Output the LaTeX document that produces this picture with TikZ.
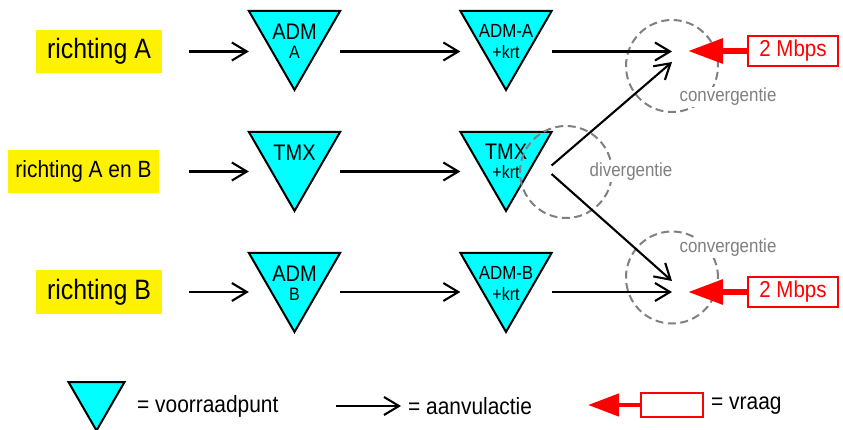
\documentclass[tikz,border=0pt]{standalone}
\usepackage{fontspec}
\setmainfont[FakeStretch=0.89]{Liberation Sans}
\usetikzlibrary{arrows.meta,shapes.geometric}
\definecolor{stockcyan}{RGB}{0,255,255}
\definecolor{zonegray}{RGB}{128,128,128}
\begin{document}
\begin{tikzpicture}[x=1pt,y=-1pt,
  fs/.style={font=\fontsize{#1}{#1}\selectfont},
  dirlabel/.style={fill=yellow, inner sep=0pt, minimum height=43pt},
  stockpt/.style={regular polygon, regular polygon sides=3, shape border rotate=180,
    draw=black, line width=2pt, fill=stockcyan, minimum size=105.3pt,
    inner sep=0pt, outer sep=0pt},
  flow/.style={line width=2.1pt, -{Straight Barb[length=15pt,width=18pt]}},
  zone/.style={circle, draw=zonegray, line width=2pt, dash pattern=on 8pt off 4.5pt,
    minimum size=92pt, inner sep=0pt},
  zonetext/.style={text=zonegray, fs=19, fill=white, inner sep=1pt},
  demand/.style={draw=red, line width=1.5pt, fill=white, text=red, inner sep=0pt},
  pull/.style={red, line width=6pt, -{Triangle[length=35pt,width=24pt]}},
]
\useasboundingbox (0,0) rectangle (843,430);

% direction labels
\node[dirlabel, minimum width=126pt, fs=28] (la)  at (99,51.5)   {richting A};
\node[dirlabel, minimum width=151pt, fs=23.5] (lab) at (83.5,171.5) {richting A en B};
\node[dirlabel, minimum width=126pt, fs=28] (lb)  at (99,292)    {richting B};

% stock points
\node[stockpt] (ta)  at (294.5,37.3)  {};
\node[stockpt] (tak) at (506,37.3)    {};
\node[stockpt] (tt)  at (294.5,158.3) {};
\node[stockpt] (ttk) at (506,158.3)   {};
\node[stockpt] (tb)  at (294.5,279.3) {};
\node[stockpt] (tbk) at (506,279.3)   {};

\node[fs=22.5] (ta-name)  at ([yshift=6pt]ta.center)   {ADM};
\node[fs=18]   (ta-sub)   at ([yshift=-15pt]ta.center) {A};
\node[fs=19]   (tak-name) at ([yshift=6pt]tak.center)  {ADM-A};
\node[fs=18]   (tak-sub)  at ([yshift=-15pt]tak.center){+krt};
\node[fs=22.5] (tt-name)  at ([yshift=6pt]tt.center)   {TMX};
\node[fs=22.5] (ttk-name) at ([yshift=7pt]ttk.center)  {TMX};
\node[fs=18]   (ttk-sub)  at ([yshift=-14pt]ttk.center){+krt};
\node[fs=22.5] (tb-name)  at ([yshift=6pt]tb.center)   {ADM};
\node[fs=18]   (tb-sub)   at ([yshift=-15pt]tb.center) {B};
\node[fs=19]   (tbk-name) at ([yshift=6pt]tbk.center)  {ADM-B};
\node[fs=18]   (tbk-sub)  at ([yshift=-15pt]tbk.center){+krt};

% convergence / divergence zones
\node[zone] (ca) at (672,66)    {};
\node[zone] (cd) at (566,172)   {};
\node[zone] (cb) at (672,277.5) {};
\node[zonetext] (ca-lbl) at (728,97)  {convergentie};
\node[zonetext] (cd-lbl) at (631,172) {divergentie};
\node[zonetext] (cb-lbl) at (728,248) {convergentie};

\coordinate (ca-in) at ([yshift=4pt]ca.center);
\coordinate (cb-in) at ([yshift=-3.5pt]cb.center);
\coordinate (split-up) at ([yshift=6pt]lab.center -| ttk.corner 2);
\coordinate (split-dn) at ([yshift=-2.5pt]lab.center -| ttk.corner 2);

% replenishment flows, row A
\draw[flow] ([xshift=27pt]la.east) -- (la.center -| ta.corner 3);
\draw[flow] (la.center -| ta.corner 2) -- (la.center -| tak.corner 3);
\draw[flow] (la.center -| tak.corner 2) -- (la.center -| ca.center);
% row A and B
\draw[flow] ([xshift=30pt]lab.east) -- (lab.center -| tt.corner 3);
\draw[flow] (lab.center -| tt.corner 2) -- (lab.center -| ttk.corner 3);
\draw[flow] (split-up) -- (ca-in);
\draw[flow] (split-dn) -- (cb-in);
% row B
\draw[flow] ([xshift=27pt]lb.east) -- (lb.center -| tb.corner 3);
\draw[flow] (lb.center -| tb.corner 2) -- (lb.center -| tbk.corner 3);
\draw[flow] (lb.center -| tbk.corner 2) -- (lb.center -| cb.center);

% demand
\node[demand, minimum width=90pt, minimum height=30pt, fs=23] (qa) at (793,51)  {2 Mbps};
\node[demand, minimum width=90pt, minimum height=30pt, fs=23] (qb) at (793,292) {2 Mbps};
\coordinate (qa-tip) at (688,51);
\coordinate (qb-tip) at (688,292);
\draw[pull] (qa.west) -- (qa-tip);
\draw[pull] (qb.west) -- (qb-tip);

% legend
\node[stockpt, minimum size=64.7pt] (lg-stock) at (96.5,398.2) {};
\node[fs=23.5, anchor=west, inner sep=0pt] (lg-stock-txt) at (137,406) {= voorraadpunt};
\node[fs=23.5, anchor=west, inner sep=0pt] (lg-flow-txt)  at (408,406) {= aanvulactie};
\draw[flow] ([xshift=-72pt]lg-flow-txt.west) -- ([xshift=-7pt]lg-flow-txt.west);
\node[demand, minimum width=62pt, minimum height=24pt] (lg-dem) at (672,405) {};
\coordinate (lg-dem-tip) at (588,405);
\draw[red, line width=4.5pt, -{Triangle[length=31pt,width=22pt]}] (lg-dem.west) -- (lg-dem-tip);
\node[fs=23.5, anchor=west, inner sep=0pt] (lg-dem-txt) at (711,406) {= vraag};
\end{tikzpicture}
\end{document}
